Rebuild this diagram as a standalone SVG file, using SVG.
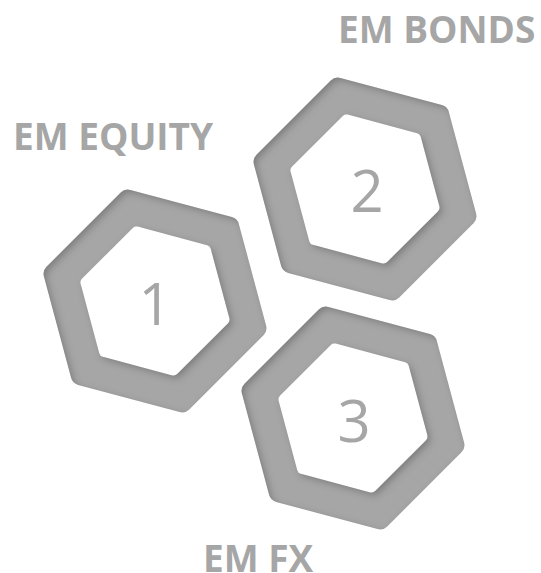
<svg xmlns="http://www.w3.org/2000/svg" xmlns:xlink="http://www.w3.org/1999/xlink" width="541" height="573" viewBox="0 0 541 573">
  <style>
    .lbl { font-family: "Open Sans", "Liberation Sans", sans-serif; font-weight: 700; font-size: 37px; fill: #a6a6a6; }
    .num { font-family: "Open Sans", "Liberation Sans", sans-serif; font-weight: 400; font-size: 58px; fill: #a6a6a6; text-anchor: middle; }
    .outer { fill: #a6a6a6; stroke: #a6a6a6; stroke-width: 20; stroke-linejoin: round; }
    .inner { fill: #000; stroke: #000; stroke-width: 10; stroke-linejoin: round; }
  </style>
  <defs>
    <filter id="inset" x="-20%" y="-20%" width="140%" height="140%">
      <feComponentTransfer in="SourceAlpha" result="inv">
        <feFuncA type="table" tableValues="1 0"/>
      </feComponentTransfer>
      <feGaussianBlur in="inv" stdDeviation="3.5" result="blur"/>
      <feOffset in="blur" dx="2.5" dy="3" result="off"/>
      <feFlood flood-color="#000" flood-opacity="0.45"/>
      <feComposite in2="off" operator="in"/>
      <feComposite in2="SourceAlpha" operator="in" result="shadow"/>
      <feMerge>
        <feMergeNode in="SourceGraphic"/>
        <feMergeNode in="shadow"/>
      </feMerge>
    </filter>
    <mask id="hole" maskUnits="userSpaceOnUse" x="-140" y="-140" width="280" height="280">
      <rect x="-140" y="-140" width="280" height="280" fill="#fff"/>
      <polygon class="inner" points="-18.63,-69.55 50.91,-50.91 69.55,18.63 18.63,69.55 -50.91,50.91 -69.55,-18.63"/>
    </mask>
    <g id="ring">
      <g filter="url(#inset)">
        <g mask="url(#hole)">
          <polygon class="outer" points="-27.18,-101.42 74.25,-74.25 101.42,27.18 27.18,101.42 -74.25,74.25 -101.42,-27.18"/>
        </g>
      </g>
    </g>
  </defs>

  <g id="connectors"></g>

  <g id="node1">
    <use xlink:href="#ring" href="#ring" transform="translate(155,301)"/>
    <text class="num" x="155" y="325">1</text>
  </g>
  <g id="node2">
    <use xlink:href="#ring" href="#ring" transform="translate(365,189)"/>
    <text class="num" x="367" y="212">2</text>
  </g>
  <g id="node3">
    <use xlink:href="#ring" href="#ring" transform="translate(353,418)"/>
    <text class="num" x="354" y="442">3</text>
  </g>

  <g id="labels">
    <text class="lbl" x="338" y="43">EM BONDS</text>
    <text class="lbl" x="13" y="150">EM EQUITY</text>
    <text class="lbl" x="203" y="572">EM FX</text>
  </g>
</svg>
